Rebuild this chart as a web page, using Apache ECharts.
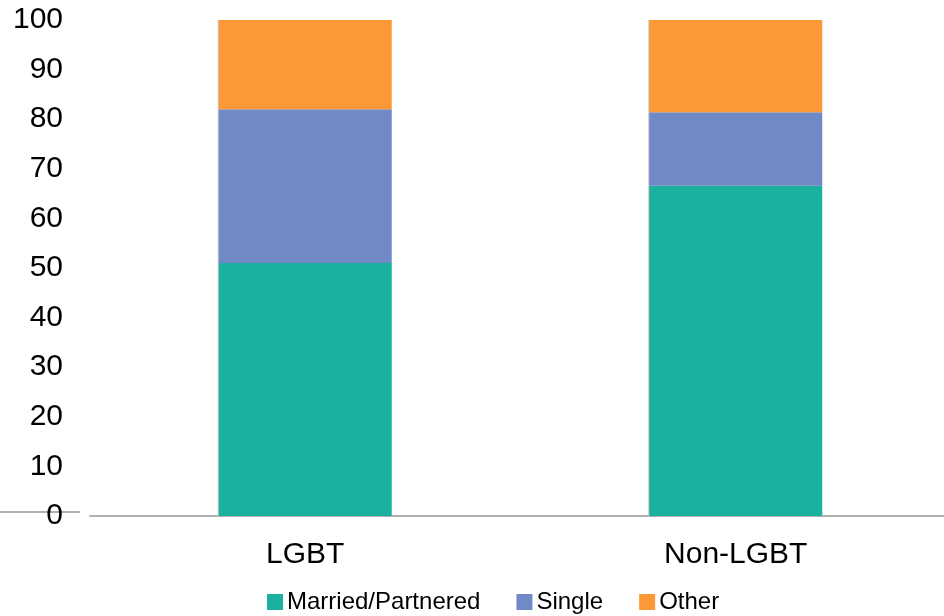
<!DOCTYPE html>
<html>
<head>
<meta charset="utf-8">
<script src="https://cdn.jsdelivr.net/npm/echarts@6/dist/echarts.min.js"></script>
<style>
html,body{margin:0;padding:0;background:#fff;}
#c{width:944px;height:616px;}
</style>
</head>
<body>
<div id="c"></div>
<script>
var categories = ['LGBT', 'Non-LGBT'];
var married = [51, 66.6];
var single = [31, 14.8];
var other = [18, 18.6];
var yTicks = [0, 10, 20, 30, 40, 50, 60, 70, 80, 90, 100];

var chart = echarts.init(document.getElementById('c'));
var font = 'Liberation Sans, Arial, sans-serif';
var shadow = {shadowColor: '#c8c8c8', shadowOffsetX: -1, shadowBlur: 0};
function bar(name, data, color) {
  return {
    name: name, type: 'bar', stack: 'total', data: data, barWidth: 173,
    itemStyle: Object.assign({color: color}, shadow)
  };
}
chart.setOption({
  animation: false,
  textStyle: {fontFamily: font},
  grid: {left: 90, width: 861, top: 20, height: 496, containLabel: false, outerBoundsMode: 'none'},
  legend: {
    left: 267, top: 590, padding: 0, itemWidth: 16, itemHeight: 16, itemGap: 36,
    icon: 'rect',
    textStyle: {fontSize: 24, color: '#000', fontFamily: font, padding: [0, 0, 0, -1]},
    data: ['Married/Partnered', 'Single', 'Other']
  },
  xAxis: {
    type: 'category', data: categories,
    axisLine: {show: true, lineStyle: {color: '#b0b0b0', width: 2}},
    axisTick: {show: false},
    axisLabel: {fontSize: 30, color: '#000', margin: 24, fontFamily: font}
  },
  yAxis: {
    type: 'value', min: yTicks[0], max: yTicks[yTicks.length - 1], interval: 10,
    axisLine: {show: false}, axisTick: {show: false}, splitLine: {show: false},
    axisLabel: {fontSize: 30, color: '#000', margin: 27, fontFamily: font}
  },
  graphic: [{
    type: 'line', shape: {x1: 0, y1: 512, x2: 80, y2: 512},
    style: {stroke: '#b0b0b0', lineWidth: 2}, z: 0
  }],
  series: [
    bar('Married/Partnered', married, '#1AB29E'),
    bar('Single', single, '#718AC7'),
    bar('Other', other, '#FD9837')
  ]
});
</script>
</body>
</html>
